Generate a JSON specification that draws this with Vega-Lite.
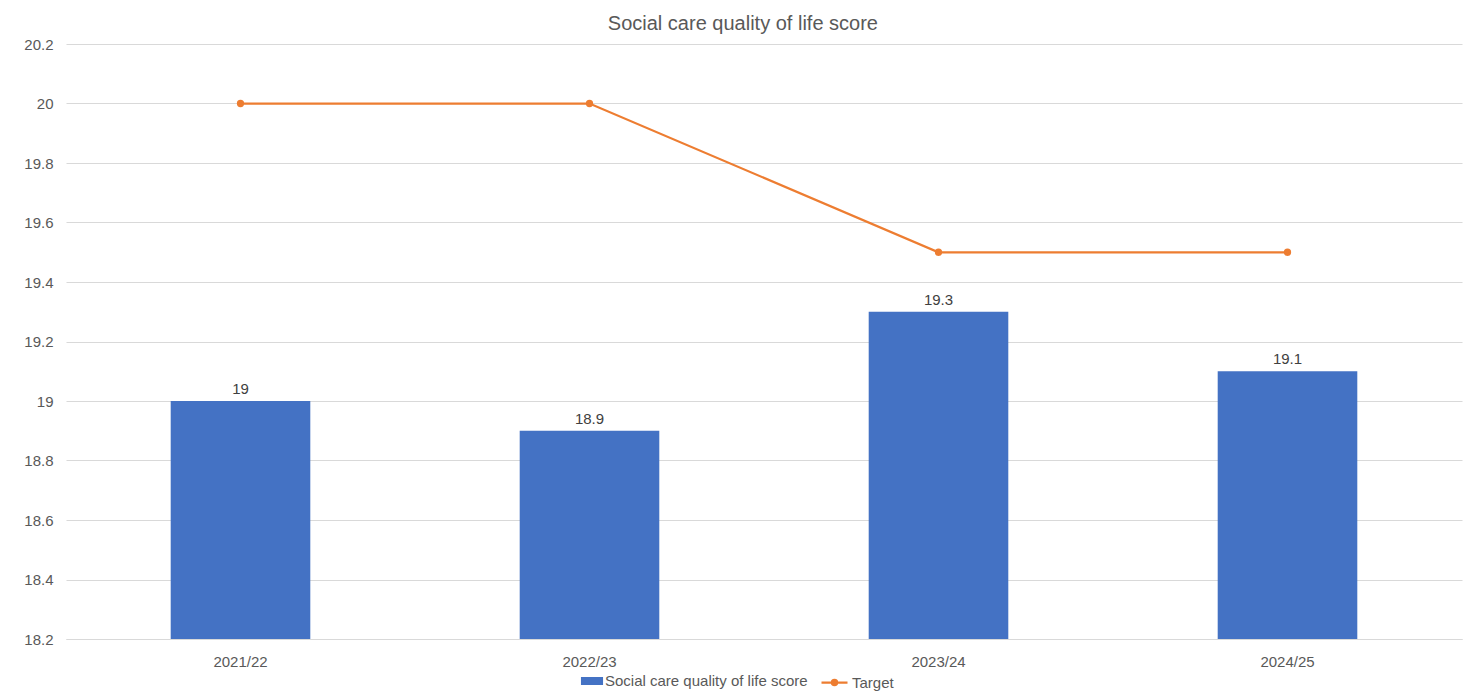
{
  "$schema": "https://vega.github.io/schema/vega-lite/v6.json",
  "width": 1396,
  "height": 595,
  "autosize": "none",
  "padding": {"left": 66, "right": 12, "top": 44, "bottom": 59},
  "background": "white",
  "title": {
    "text": "Social care quality of life score",
    "fontSize": 20,
    "font": "Liberation Sans",
    "fontWeight": "normal",
    "color": "#595959",
    "anchor": "middle",
    "frame": "bounds",
    "offset": 3
  },
  "data": {
    "values": [
      {"year": "2021/22", "score": 19.0, "target": 20.0},
      {"year": "2022/23", "score": 18.9, "target": 20.0},
      {"year": "2023/24", "score": 19.3, "target": 19.5},
      {"year": "2024/25", "score": 19.1, "target": 19.5}
    ]
  },
  "config": {
    "font": "Liberation Sans",
    "view": {"stroke": null},
    "axis": {
      "labelFont": "Liberation Sans",
      "labelFontSize": 15,
      "labelColor": "#595959",
      "gridColor": "#d9d9d9",
      "domainColor": "#d9d9d9",
      "ticks": false,
      "title": null
    },
    "legend": {
      "labelFont": "Liberation Sans",
      "labelFontSize": 15,
      "labelColor": "#595959",
      "labelLimit": 400,
      "labelOffset": 3,
      "padding": 0
    }
  },
  "encoding": {
    "x": {
      "field": "year",
      "type": "nominal",
      "scale": {"paddingInner": 0.6, "paddingOuter": 0.3},
      "axis": {"labelAngle": 0, "labelPadding": 15, "grid": false, "domain": true}
    }
  },
  "layer": [
    {
      "mark": {"type": "bar", "clip": true},
      "encoding": {
        "y": {
          "field": "score",
          "type": "quantitative",
          "scale": {"domain": [18.2, 20.2], "nice": false, "zero": false},
          "axis": {"values": [18.2, 18.4, 18.6, 18.8, 19, 19.2, 19.4, 19.6, 19.8, 20, 20.2], "domain": false, "labelPadding": 13, "format": "~g"}
        },
        "fill": {
          "datum": "Social care quality of life score",
          "type": "nominal",
          "scale": {"domain": ["Social care quality of life score"], "range": ["#4472C4"]},
          "legend": {
            "title": null,
            "orient": "none",
            "legendX": 513,
            "legendY": 624,
            "labelOffset": 0,
            "symbolType": "M-0.85,-0.31H0.85V0.31H-0.85Z",
            "symbolSize": 676,
            "symbolStrokeWidth": 0
          }
        }
      }
    },
    {
      "mark": {"type": "text", "baseline": "alphabetic", "dy": -7, "fontSize": 15, "color": "#404040", "font": "Liberation Sans"},
      "encoding": {
        "y": {"field": "score", "type": "quantitative"},
        "text": {"field": "score", "type": "quantitative", "format": "~g"}
      }
    },
    {
      "mark": {"type": "line", "strokeWidth": 2.25, "point": {"size": 28, "filled": true, "color": "#ED7D31"}},
      "encoding": {
        "y": {"field": "target", "type": "quantitative"},
        "stroke": {
          "datum": "Target",
          "type": "nominal",
          "scale": {"domain": ["Target"], "range": ["#ED7D31"]},
          "legend": {
            "title": null,
            "orient": "none",
            "legendX": 754,
            "legendY": 624,
            "symbolType": "M-1,0H1M0.2,0A0.2,0.2 0 1,1 -0.2,0A0.2,0.2 0 1,1 0.2,0Z",
            "symbolSize": 676,
            "symbolStrokeWidth": 2.25,
            "symbolFillColor": "#ED7D31"
          }
        }
      }
    }
  ],
  "resolve": {"scale": {"fill": "independent", "stroke": "independent"}}
}
